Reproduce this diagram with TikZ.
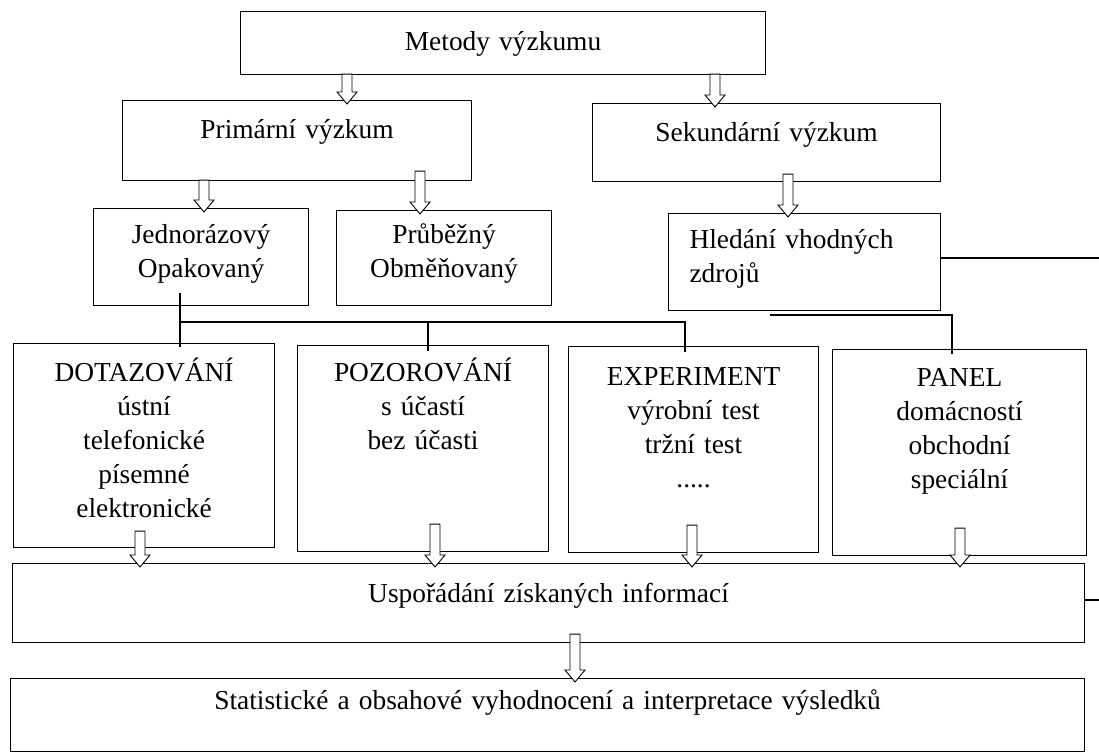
\documentclass[tikz,border=0pt]{standalone}
\usepackage{fontspec}
\setmainfont{Liberation Serif}
\usetikzlibrary{calc}

\tikzset{
  box/.style={draw,line width=1.1bp,anchor=north west,inner sep=0pt,align=center,
    font=\fontsize{27.5}{34}\selectfont},
  hollow/.style={draw,fill=white,line width=0.9bp,line join=miter},
  link/.style={line width=1.1bp}
}
% hollow block arrow: x, from anchor, to anchor, lift of the shaft into the upper box
\newcommand{\blockarrow}[4]{%
  \draw[hollow] let \p1=(#1), \p2=(#2), \p3=(#3) in
    (\x1-5bp,\y2+#4) -- (\x1-5bp,\y3+8bp) -- (\x1-10bp,\y3+8bp) -- (\x1,\y3-4bp)
    -- (\x1+10bp,\y3+8bp) -- (\x1+5bp,\y3+8bp) -- (\x1+5bp,\y2+#4) -- cycle;}

\begin{document}
\begin{tikzpicture}[x=1bp,y=-1bp]
\useasboundingbox (0,0) rectangle (1099,754);

% boxes
\node[box,text width=525bp,minimum height=63bp,text height=39bp,text depth=24bp] (metody) at (240,11) {Metody výzkumu};
\node[box,text width=349bp,minimum height=80bp,text height=38bp,text depth=42bp] (prim) at (122,100) {Primární výzkum};
\node[box,text width=348bp,minimum height=78bp,text height=38bp,text depth=40bp] (sek) at (592,103) {Sekundární výzkum};
\node[box,text width=215bp,minimum height=97bp,text height=35bp,text depth=62bp] (jedn) at (93,208) {Jednorázový\\Opakovaný};
\node[box,text width=215bp,minimum height=95bp,text height=33bp,text depth=62bp] (prub) at (336,210) {Průběžný\\Obměňovaný};
\node[box,align=left,text width=230bp,inner xsep=21bp,minimum height=97bp,text height=35bp,text depth=62bp] (hled) at (668,213) {Hledání vhodných\\zdrojů};
\node[box,text width=261bp,minimum height=204bp,text height=38bp,text depth=166bp] (dotaz) at (13,343) {DOTAZOVÁNÍ\\ústní\\telefonické\\písemné\\elektronické};
\node[box,text width=251bp,minimum height=206bp,text height=36bp,text depth=170bp] (pozor) at (297,345) {POZOROVÁNÍ\\s účastí\\bez účasti};
\node[box,text width=250bp,minimum height=206bp,text height=39bp,text depth=167bp] (exper) at (568,346) {EXPERIMENT\\výrobní test\\tržní test\\.....};
\node[box,text width=254bp,minimum height=206bp,text height=37bp,text depth=169bp] (panel) at (832,349) {PANEL\\domácností\\obchodní\\speciální};
\node[box,text width=1072bp,minimum height=79bp,text height=39bp,text depth=40bp] (uspor) at (12,563) {Uspořádání získaných informací};
\node[box,text width=1074bp,minimum height=73bp,text height=31bp,text depth=42bp] (stat) at (10,678) {Statistické a obsahové vyhodnocení a interpretace výsledků};

% plain connectors
\coordinate (split) at (180,322);
\coordinate (splitpoz) at (428,322);
\coordinate (splitexp) at (685,322);
\coordinate (panstart) at (770,315);
\coordinate (panjoin) at (952,315);
\coordinate (hledend) at (1099,258);
\coordinate (usporend) at (1099,600);
\draw[link] ([yshift=13bp]split |- jedn.south) -- ([yshift=-4bp]split |- dotaz.north);
\draw[link] (split) -- (splitexp) -- ([yshift=-6bp]splitexp |- exper.north);
\draw[link] (splitpoz) -- ([yshift=-6bp]splitpoz |- pozor.north);
\draw[link] (panstart) -- (panjoin) -- ([yshift=-5bp]panjoin |- panel.north);
\draw[link] (hled.east |- hledend) -- (hledend);
\draw[link] (uspor.east |- usporend) -- (usporend);

% block arrows
\blockarrow{347,0}{metody.south}{prim.north}{1bp}
\blockarrow{715,0}{metody.south}{sek.north}{1bp}
\blockarrow{204,0}{prim.south}{jedn.north}{1bp}
\blockarrow{420,0}{prim.south}{prub.north}{10bp}
\blockarrow{788,0}{sek.south}{hled.north}{8bp}
\blockarrow{140,0}{dotaz.south}{uspor.north}{17bp}
\blockarrow{435,0}{pozor.south}{uspor.north}{28bp}
\blockarrow{692,0}{exper.south}{uspor.north}{28bp}
\blockarrow{960,0}{panel.south}{uspor.north}{28bp}
\blockarrow{575,0}{uspor.south}{stat.north}{9bp}
\end{tikzpicture}
\end{document}
